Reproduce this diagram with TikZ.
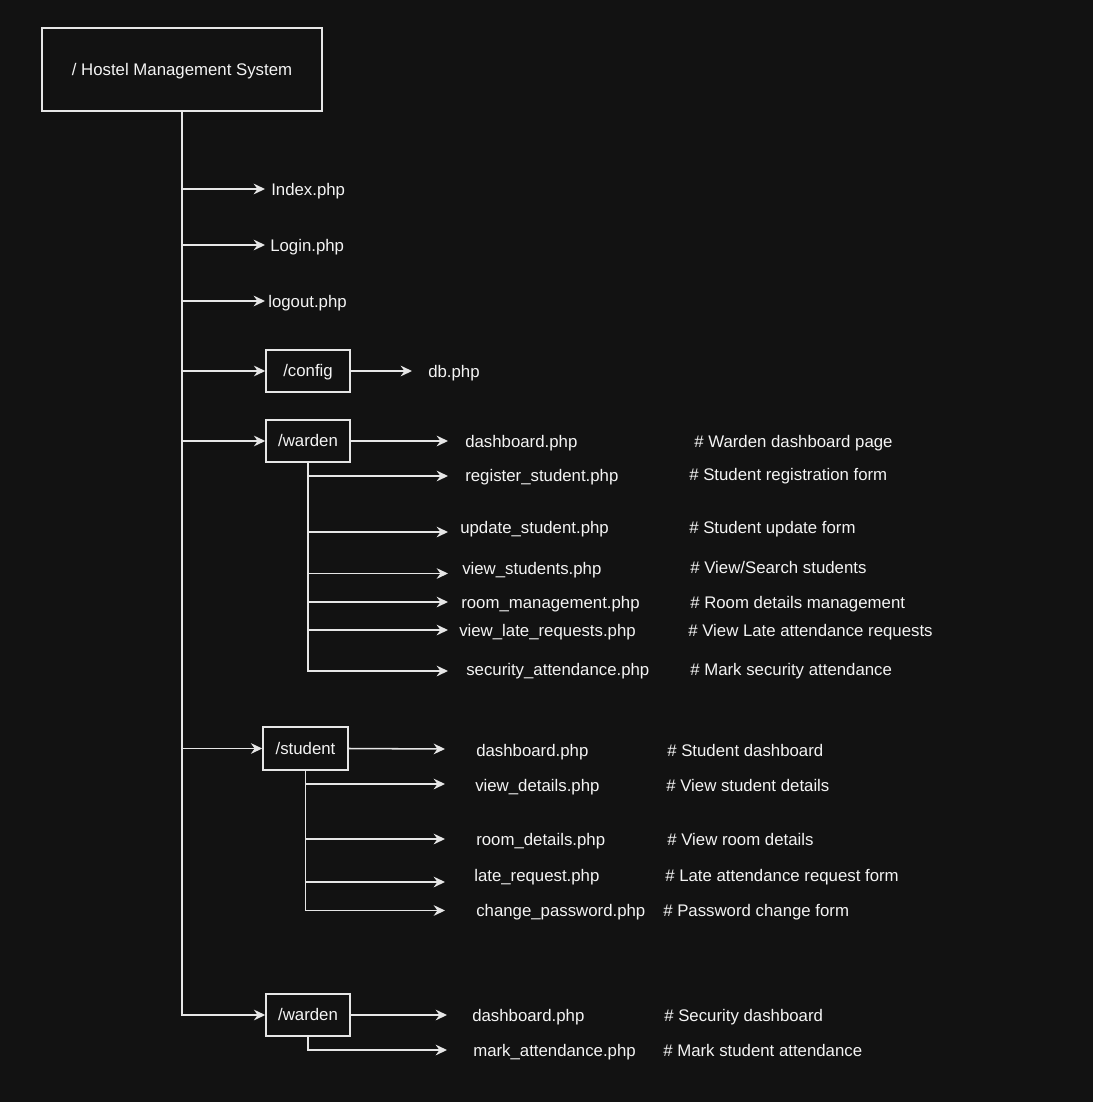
\documentclass[tikz,border=0pt]{standalone}
\usepackage{fontspec}
\setmainfont{Liberation Sans}
\usetikzlibrary{arrows.meta,calc}
\definecolor{bgc}{HTML}{121212}
\definecolor{lnc}{HTML}{E6E6E6}
\definecolor{txc}{HTML}{F4F4F4}
\begin{document}
\begin{tikzpicture}[x=0.75pt,y=-0.75pt,
  ln/.style={draw=lnc,line width=1.15pt},
  arr/.style={ln,-{Stealth[length=8.5pt,width=8pt,inset=2.8pt]}},
  txt/.style={inner sep=0pt,anchor=west,text=txc,font=\fontsize{12.6}{15}\selectfont,text height=11.4pt,text depth=2.67pt,yshift=-0.75pt},
  box/.style={draw=lnc,line width=1.15pt,inner sep=0pt,text=txc,font=\fontsize{12.6}{15}\selectfont,text height=11.4pt,text depth=2.67pt,minimum width=63pt,minimum height=31.5pt}]
\useasboundingbox (0,0) rectangle (1092,1102);
\fill[bgc] (-10,-10) rectangle (1102,1112);

% root
\node[box,minimum width=210pt,minimum height=62.25pt] (root) at (182,69.5) {/ Hostel Management System};

% top-level files
\node[txt] (idx) at (271,189) {Index.php};
\node[txt] (login) at (270,245) {Login.php};
\node[txt] (logout) at (268,301) {logout.php};
\coordinate (t-idx) at (265,189);
\coordinate (t-login) at (265,245);
\coordinate (t-logout) at (265,301);

% config
\node[box] (config) at (308,371) {/config};
\node[txt] (db) at (428,371) {db.php};
\coordinate (t-db) at (412,371);

% warden
\node[box] (war1) at (308,441) {/warden};
\node[txt] (wd) at (465,441) {dashboard.php};
\node[txt] (wdc) at (694,441) {\# Warden dashboard page};
\node[txt] (wr) at (465,475) {register\_student.php};
\node[txt] (wrc) at (689,474) {\# Student registration form};
\node[txt] (wu) at (460,527) {update\_student.php};
\node[txt] (wuc) at (689,527) {\# Student update form};
\node[txt] (wv) at (462,568) {view\_students.php};
\node[txt] (wvc) at (690,567) {\# View/Search students};
\node[txt] (wm) at (461,602) {room\_management.php};
\node[txt] (wmc) at (690,602) {\# Room details management};
\node[txt] (wl) at (459,630) {view\_late\_requests.php};
\node[txt] (wlc) at (688,630) {\# View Late attendance requests};
\node[txt] (ws) at (466,669) {security\_attendance.php};
\node[txt] (wsc) at (690,669) {\# Mark security attendance};
\coordinate (t-wd) at (448,441);
\coordinate (t-wr) at (448,476);
\coordinate (t-wu) at (448,532);
\coordinate (t-wv) at (448,573.5);
\coordinate (t-wm) at (448,602);
\coordinate (t-wl) at (448,630);
\coordinate (t-ws) at (448,671);

% student
\node[box,minimum width=63.75pt,minimum height=32.25pt] (stu) at (305.5,748.5) {/student};
\node[txt] (sd) at (476,749.5) {dashboard.php};
\node[txt] (sdc) at (667,749.5) {\# Student dashboard};
\node[txt] (sv) at (475,785) {view\_details.php};
\node[txt] (svc) at (666,785) {\# View student details};
\node[txt] (sr) at (476,838.5) {room\_details.php};
\node[txt] (src) at (667,838.5) {\# View room details};
\node[txt] (sl) at (474,875) {late\_request.php};
\node[txt] (slc) at (665,875) {\# Late attendance request form};
\node[txt] (sp) at (476,910) {change\_password.php};
\node[txt] (spc) at (663,910) {\# Password change form};
\coordinate (t-sd) at (445,749);
\coordinate (t-sv) at (445,784);
\coordinate (t-sr) at (445,839);
\coordinate (t-sl) at (445,882);
\coordinate (t-sp) at (445,910.5);

% second warden (security)
\node[box] (war2) at (308,1015) {/warden};
\node[txt] (xd) at (472,1015) {dashboard.php};
\node[txt] (xdc) at (664,1015) {\# Security dashboard};
\node[txt] (xm) at (473,1050) {mark\_attendance.php};
\node[txt] (xmc) at (663,1050) {\# Mark student attendance};
\coordinate (t-xd) at (447,1015);
\coordinate (t-xm) at (447,1050);

% main trunk
\draw[arr] (root.south) |- (war2.west);
\draw[arr] (root.south |- t-idx) -- (t-idx);
\draw[arr] (root.south |- t-login) -- (t-login);
\draw[arr] (root.south |- t-logout) -- (t-logout);
\draw[arr] (root.south |- config.west) -- (config.west);
\draw[arr] (root.south |- war1.west) -- (war1.west);
\draw[arr] (root.south |- stu.west) -- (stu.west);

% config
\draw[arr] (config.east) -- (t-db);

% warden subtree
\draw[arr] (war1.east) -- (t-wd);
\draw[arr] (war1.south) |- (t-ws);
\foreach \t in {wr,wu,wv,wm,wl}
  \draw[arr] (war1.south |- t-\t) -- (t-\t);

% student subtree
\draw[arr] (stu.east) -- (t-sd);
\draw[arr] (stu.south) |- (t-sp);
\foreach \t in {sv,sr,sl}
  \draw[arr] (stu.south |- t-\t) -- (t-\t);

% security subtree
\draw[arr] (war2.east) -- (t-xd);
\draw[arr] (war2.south) |- (t-xm);
\end{tikzpicture}
\end{document}
